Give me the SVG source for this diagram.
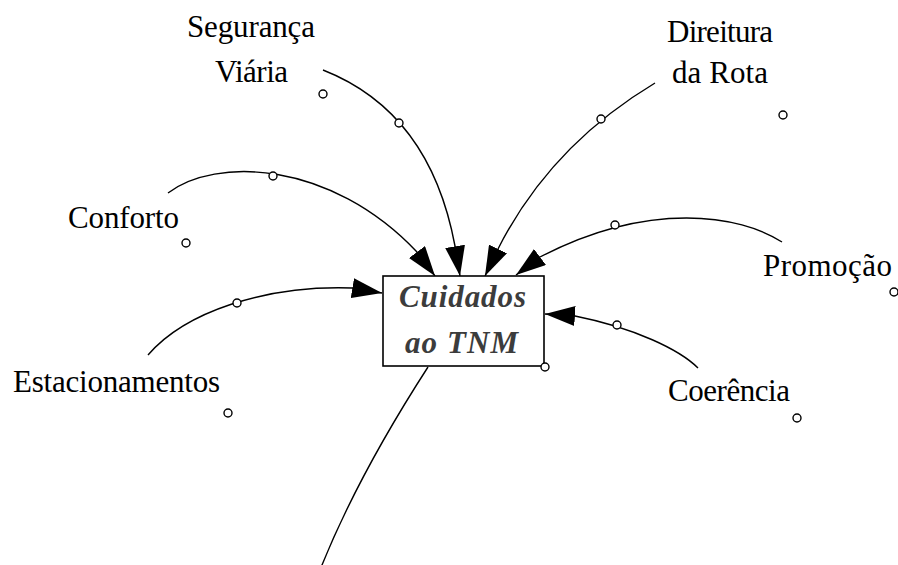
<svg xmlns="http://www.w3.org/2000/svg" width="898" height="565" viewBox="0 0 898 565">
  <style>
    .lbl { font-family: "Liberation Serif", "Times New Roman", serif; font-size: 31px; fill: #000; }
    .main { font-family: "Liberation Serif", "Times New Roman", serif; font-size: 31px; font-style: italic; font-weight: bold; fill: #3c3c3c; }
    .conn { fill: none; stroke: #000; stroke-width: 1.4; }
    .dot { fill: #fff; stroke: #000; stroke-width: 1.4; }
    .box { fill: #fff; stroke: #000; stroke-width: 1.6; }
  </style>
  <defs>
    <marker id="arr" markerUnits="userSpaceOnUse" viewBox="0 0 30 20" markerWidth="30" markerHeight="20" refX="30" refY="10" orient="auto">
      <path d="M0,0 L30,10 L0,20 Z" fill="#000"/>
    </marker>
  </defs>
  <rect width="898" height="565" fill="#fff"/>

  <g id="connectors">
    <path class="conn" d="M323,70 Q430,112 455,246 L460,276" marker-end="url(#arr)"/>
    <path class="conn" d="M655,83 Q550,146 498,249 L485,276" marker-end="url(#arr)"/>
    <path class="conn" d="M168,193 C215,157 330,160 417,252 L435,276" marker-end="url(#arr)"/>
    <path class="conn" d="M148,355 C185,312 265,285 352,288 L382,293" marker-end="url(#arr)"/>
    <path class="conn" d="M782,242 C740,215 650,200 540,257 L516,275" marker-end="url(#arr)"/>
    <path class="conn" d="M698,368 C680,350 635,328 575,316 L545,314" marker-end="url(#arr)"/>
    <path class="conn" d="M428,367 Q357,477 320,570"/>
    <circle class="dot" cx="399" cy="123" r="4"/>
    <circle class="dot" cx="601" cy="119" r="4"/>
    <circle class="dot" cx="273" cy="176" r="4"/>
    <circle class="dot" cx="237" cy="303" r="4"/>
    <circle class="dot" cx="615" cy="225" r="4"/>
    <circle class="dot" cx="617" cy="325" r="4"/>
  </g>

  <g id="node-cuidados">
    <rect class="box" x="383" y="276" width="161" height="90"/>
    <text class="main" x="399" y="307" textLength="127">Cuidados</text>
    <text class="main" x="405" y="353" textLength="113">ao TNM</text>
    <circle class="dot" cx="545" cy="367" r="4"/>
  </g>

  <g id="node-seguranca">
    <text class="lbl" x="187" y="37" textLength="128">Segurança</text>
    <text class="lbl" x="215" y="82" textLength="73">Viária</text>
    <circle class="dot" cx="323" cy="94" r="4"/>
  </g>

  <g id="node-direitura">
    <text class="lbl" x="667" y="42" textLength="106">Direitura</text>
    <text class="lbl" x="672" y="83" textLength="96">da Rota</text>
    <circle class="dot" cx="783" cy="115" r="4"/>
  </g>

  <g id="node-conforto">
    <text class="lbl" x="68" y="228" textLength="111">Conforto</text>
    <circle class="dot" cx="186" cy="243" r="4"/>
  </g>

  <g id="node-promocao">
    <text class="lbl" x="763" y="276" textLength="129">Promoção</text>
    <circle class="dot" cx="894" cy="292" r="4"/>
  </g>

  <g id="node-estacionamentos">
    <text class="lbl" x="13" y="392" textLength="207">Estacionamentos</text>
    <circle class="dot" cx="228" cy="413" r="4"/>
  </g>

  <g id="node-coerencia">
    <text class="lbl" x="668" y="401" textLength="122">Coerência</text>
    <circle class="dot" cx="797" cy="418" r="4"/>
  </g>
</svg>
